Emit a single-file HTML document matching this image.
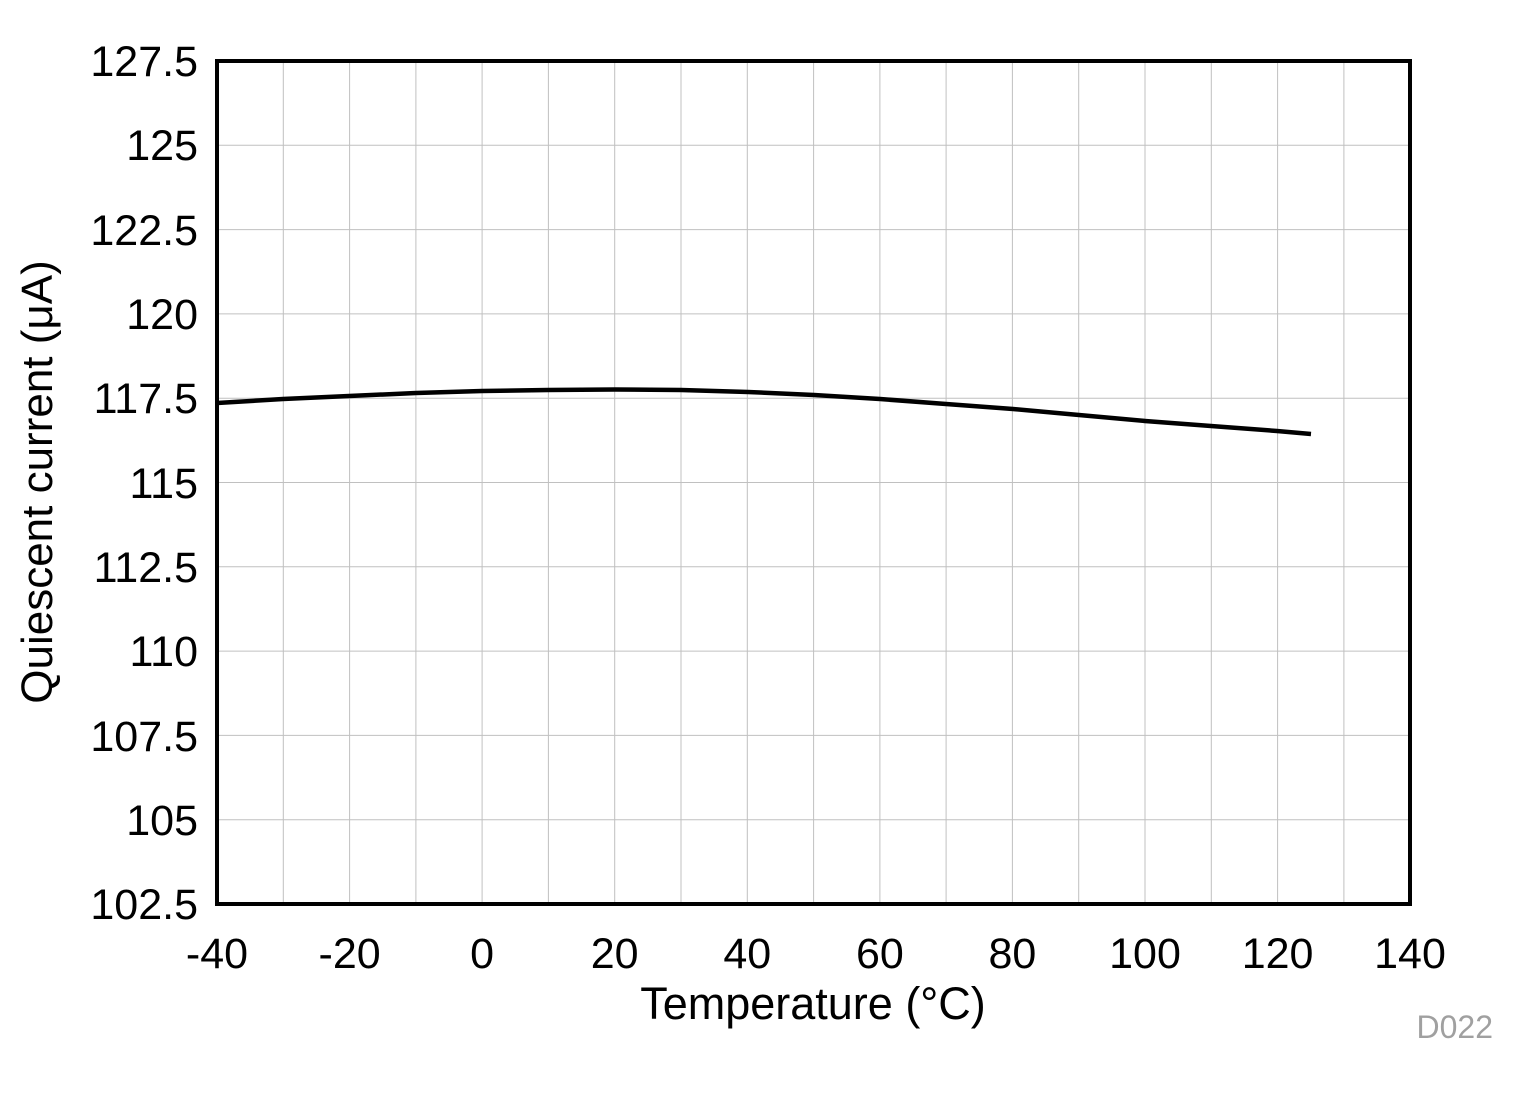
<!DOCTYPE html>
<html><head><meta charset="utf-8"><style>
html,body{margin:0;padding:0;background:#fff;}
svg text{font-family:"Liberation Sans",Arial,sans-serif;}
</style></head><body>
<svg width="1524" height="1090" xmlns="http://www.w3.org/2000/svg">
<g stroke="#c0c0c0" stroke-width="1">
<line x1="283.3" y1="61" x2="283.3" y2="904"/>
<line x1="349.6" y1="61" x2="349.6" y2="904"/>
<line x1="415.9" y1="61" x2="415.9" y2="904"/>
<line x1="482.1" y1="61" x2="482.1" y2="904"/>
<line x1="548.4" y1="61" x2="548.4" y2="904"/>
<line x1="614.7" y1="61" x2="614.7" y2="904"/>
<line x1="681" y1="61" x2="681" y2="904"/>
<line x1="747.3" y1="61" x2="747.3" y2="904"/>
<line x1="813.6" y1="61" x2="813.6" y2="904"/>
<line x1="879.9" y1="61" x2="879.9" y2="904"/>
<line x1="946.1" y1="61" x2="946.1" y2="904"/>
<line x1="1012.4" y1="61" x2="1012.4" y2="904"/>
<line x1="1078.7" y1="61" x2="1078.7" y2="904"/>
<line x1="1145" y1="61" x2="1145" y2="904"/>
<line x1="1211.3" y1="61" x2="1211.3" y2="904"/>
<line x1="1277.6" y1="61" x2="1277.6" y2="904"/>
<line x1="1343.9" y1="61" x2="1343.9" y2="904"/>
<line x1="217" y1="145.3" x2="1410" y2="145.3"/>
<line x1="217" y1="229.6" x2="1410" y2="229.6"/>
<line x1="217" y1="313.9" x2="1410" y2="313.9"/>
<line x1="217" y1="398.2" x2="1410" y2="398.2"/>
<line x1="217" y1="482.5" x2="1410" y2="482.5"/>
<line x1="217" y1="566.8" x2="1410" y2="566.8"/>
<line x1="217" y1="651.1" x2="1410" y2="651.1"/>
<line x1="217" y1="735.4" x2="1410" y2="735.4"/>
<line x1="217" y1="819.7" x2="1410" y2="819.7"/>
</g>
<polyline fill="none" stroke="#000" stroke-width="4.5" stroke-linejoin="round" points="217,403 283,399 349,396 416,393 482,391 548,390 615,389.5 681,390 748,392 814,395 880,399 946,404 1013,409 1079,415 1145,421 1211,426 1277,431 1311,434"/>
<rect x="217" y="61" width="1193" height="843" fill="none" stroke="#000" stroke-width="4"/>
<g font-size="43" text-anchor="end" fill="#000">
<text x="198" y="76">127.5</text>
<text x="198" y="160">125</text>
<text x="198" y="245">122.5</text>
<text x="198" y="329">120</text>
<text x="198" y="413">117.5</text>
<text x="198" y="498">115</text>
<text x="198" y="582">112.5</text>
<text x="198" y="666">110</text>
<text x="198" y="751">107.5</text>
<text x="198" y="835">105</text>
<text x="198" y="919">102.5</text>
</g>
<g font-size="43" text-anchor="middle" fill="#000">
<text x="217" y="968">-40</text>
<text x="349.6" y="968">-20</text>
<text x="482.1" y="968">0</text>
<text x="614.7" y="968">20</text>
<text x="747.3" y="968">40</text>
<text x="879.9" y="968">60</text>
<text x="1012.4" y="968">80</text>
<text x="1145" y="968">100</text>
<text x="1277.6" y="968">120</text>
<text x="1410" y="968">140</text>
<text x="813" y="1019" font-size="45">Temperature (°C)</text>
<text transform="translate(52,482) rotate(-90)" font-size="44">Quiescent current (μA)</text>
</g>
<text x="1493" y="1038" font-size="32" text-anchor="end" fill="#a0a0a0">D022</text>
</svg>
</body></html>
